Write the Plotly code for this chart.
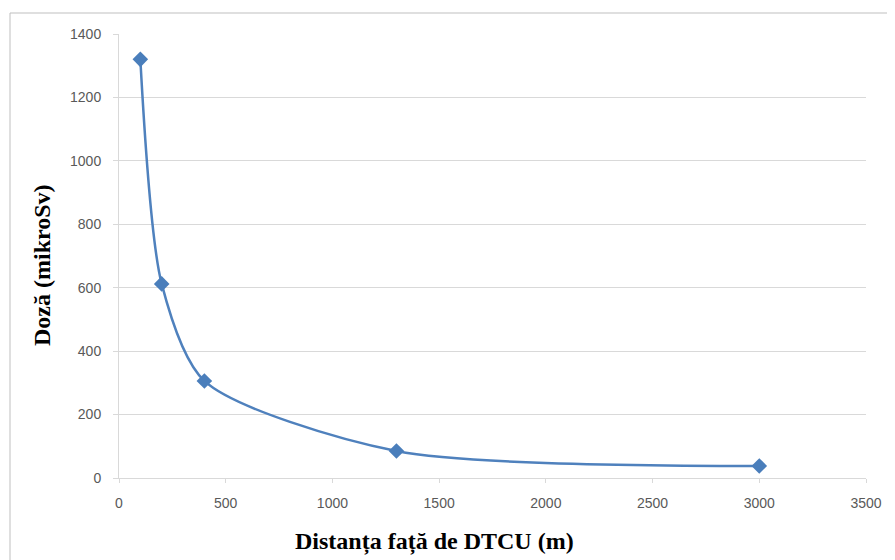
import plotly.graph_objects as go

distance_m = [100, 200, 400, 1300, 3000]
dose_mikrosv = [1320, 612, 306, 85, 38]

x_title = "Distanța față de DTCU (m)"
y_title = "Doză (mikroSv)"

# browser body has an 8px margin; compensate so the plot lands where the reference has it
OFF = 8
W, H = 895 - OFF, 560 - OFF
L, R, T, B = 119 - OFF, 29, 34 - OFF, 82
pw, ph = W - L - R, H - T - B

def px(xpix):
    return (xpix - OFF - L) / pw

def py(ypix):
    return (H - B - (ypix - OFF)) / ph

fig = go.Figure()
fig.add_trace(go.Scatter(
    x=distance_m, y=dose_mikrosv, mode="lines+markers",
    line=dict(color="#4F81BD", width=2.5, shape="spline", smoothing=0.75),
    marker=dict(symbol="diamond", size=12, color="#4A7EBB"),
    showlegend=False,
))

tick_font = dict(family="Liberation Sans, Arial", size=14, color="#595959")
fig.update_xaxes(
    range=[0, 3500], tickvals=[0, 500, 1000, 1500, 2000, 2500, 3000, 3500],
    showgrid=False, zeroline=False, showline=True, linecolor="#D9D9D9", linewidth=1,
    ticks="outside", ticklen=4, tickcolor="#D9D9D9", tickfont=tick_font,
    ticklabelstandoff=8,
)
fig.update_yaxes(
    range=[0, 1400], tickvals=[0, 200, 400, 600, 800, 1000, 1200, 1400],
    showgrid=True, gridcolor="#D9D9D9", gridwidth=1, zeroline=False,
    showline=True, linecolor="#D9D9D9", linewidth=1,
    ticks="outside", ticklen=5, tickcolor="#D9D9D9", tickfont=tick_font,
    ticklabelstandoff=9,
)

title_font = dict(family="Liberation Serif, Times New Roman", size=24, color="#000000")
fig.add_annotation(text="<b>%s</b>" % x_title, xref="paper", yref="paper",
                   x=px(434), y=py(541), xanchor="center", yanchor="middle",
                   showarrow=False, font=title_font)
fig.add_annotation(text="<b>%s</b>" % y_title, xref="paper", yref="paper",
                   x=px(42), y=py(265), xanchor="center", yanchor="middle",
                   textangle=-90, showarrow=False, font=title_font)

fig.add_shape(type="rect", xref="paper", yref="paper",
              x0=px(10), x1=px(905), y0=py(575), y1=py(13),
              line=dict(color="#BFBFBF", width=1), fillcolor="rgba(0,0,0,0)", layer="below")

fig.update_layout(
    width=W, height=H, margin=dict(l=L, r=R, t=T, b=B),
    paper_bgcolor="white", plot_bgcolor="white",
)
fig.write_html("out.html")
